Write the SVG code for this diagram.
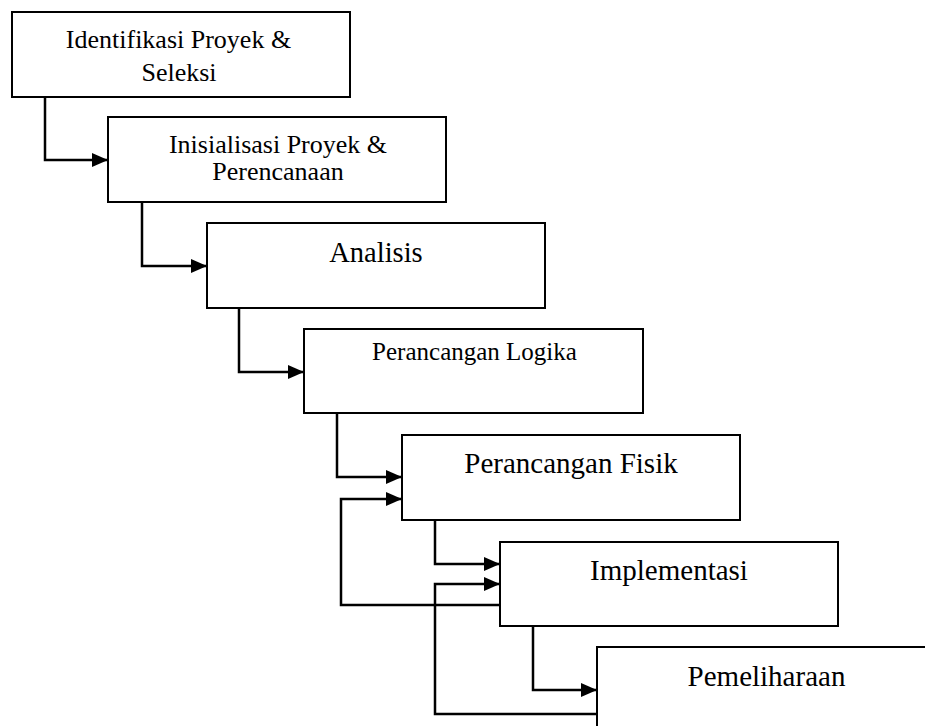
<svg xmlns="http://www.w3.org/2000/svg" width="925" height="726" viewBox="0 0 925 726">
  <defs>
    <marker id="arr" markerUnits="userSpaceOnUse" markerWidth="16" markerHeight="14" refX="16" refY="7" orient="auto">
      <path d="M0,0 L16,7 L0,14 Z" fill="#000"/>
    </marker>
    <style>
      .box{fill:#fff;stroke:#000;stroke-width:2}
      .t{font-family:"Liberation Serif","Times New Roman",serif;fill:#000;text-anchor:middle}
      .c{fill:none;stroke:#000;stroke-width:2.5;stroke-linejoin:miter}
    </style>
  </defs>
  <rect width="925" height="726" fill="#fff"/>
  <g id="connectors">
    <path class="c" d="M45,97 V160 H108" marker-end="url(#arr)"/>
    <path class="c" d="M142,202 V266 H207" marker-end="url(#arr)"/>
    <path class="c" d="M239,308 V372 H304" marker-end="url(#arr)"/>
    <path class="c" d="M337,413 V477 H402" marker-end="url(#arr)"/>
    <path class="c" d="M435,520 V564 H500" marker-end="url(#arr)"/>
    <path class="c" d="M533,626 V690 H597" marker-end="url(#arr)"/>
    <path class="c" d="M500,605 H341 V499 H402" marker-end="url(#arr)"/>
    <path class="c" d="M597,714 H435 V584 H500" marker-end="url(#arr)"/>
  </g>
  <g id="n1">
    <rect class="box" x="12" y="12" width="338" height="85"/>
    <text class="t" font-size="26" x="178.5" y="48">Identifikasi Proyek &amp;</text>
    <text class="t" font-size="26" x="179" y="81">Seleksi</text>
  </g>
  <g id="n2">
    <rect class="box" x="108" y="117" width="338" height="85"/>
    <text class="t" font-size="26" x="278" y="153">Inisialisasi Proyek &amp;</text>
    <text class="t" font-size="26" x="278" y="180">Perencanaan</text>
  </g>
  <g id="n3">
    <rect class="box" x="207" y="223" width="338" height="85"/>
    <text class="t" font-size="28.5" x="376" y="262">Analisis</text>
  </g>
  <g id="n4">
    <rect class="box" x="304" y="329" width="339" height="84"/>
    <text class="t" font-size="25" x="474.5" y="360">Perancangan Logika</text>
  </g>
  <g id="n5">
    <rect class="box" x="402" y="435" width="338" height="85"/>
    <text class="t" font-size="29" x="571" y="473">Perancangan Fisik</text>
  </g>
  <g id="n6">
    <rect class="box" x="500" y="542" width="338" height="84"/>
    <text class="t" font-size="29" x="669" y="580">Implementasi</text>
  </g>
  <g id="n7">
    <rect class="box" x="597" y="647" width="340" height="90"/>
    <text class="t" font-size="29" x="766.5" y="686">Pemeliharaan</text>
  </g>
</svg>
